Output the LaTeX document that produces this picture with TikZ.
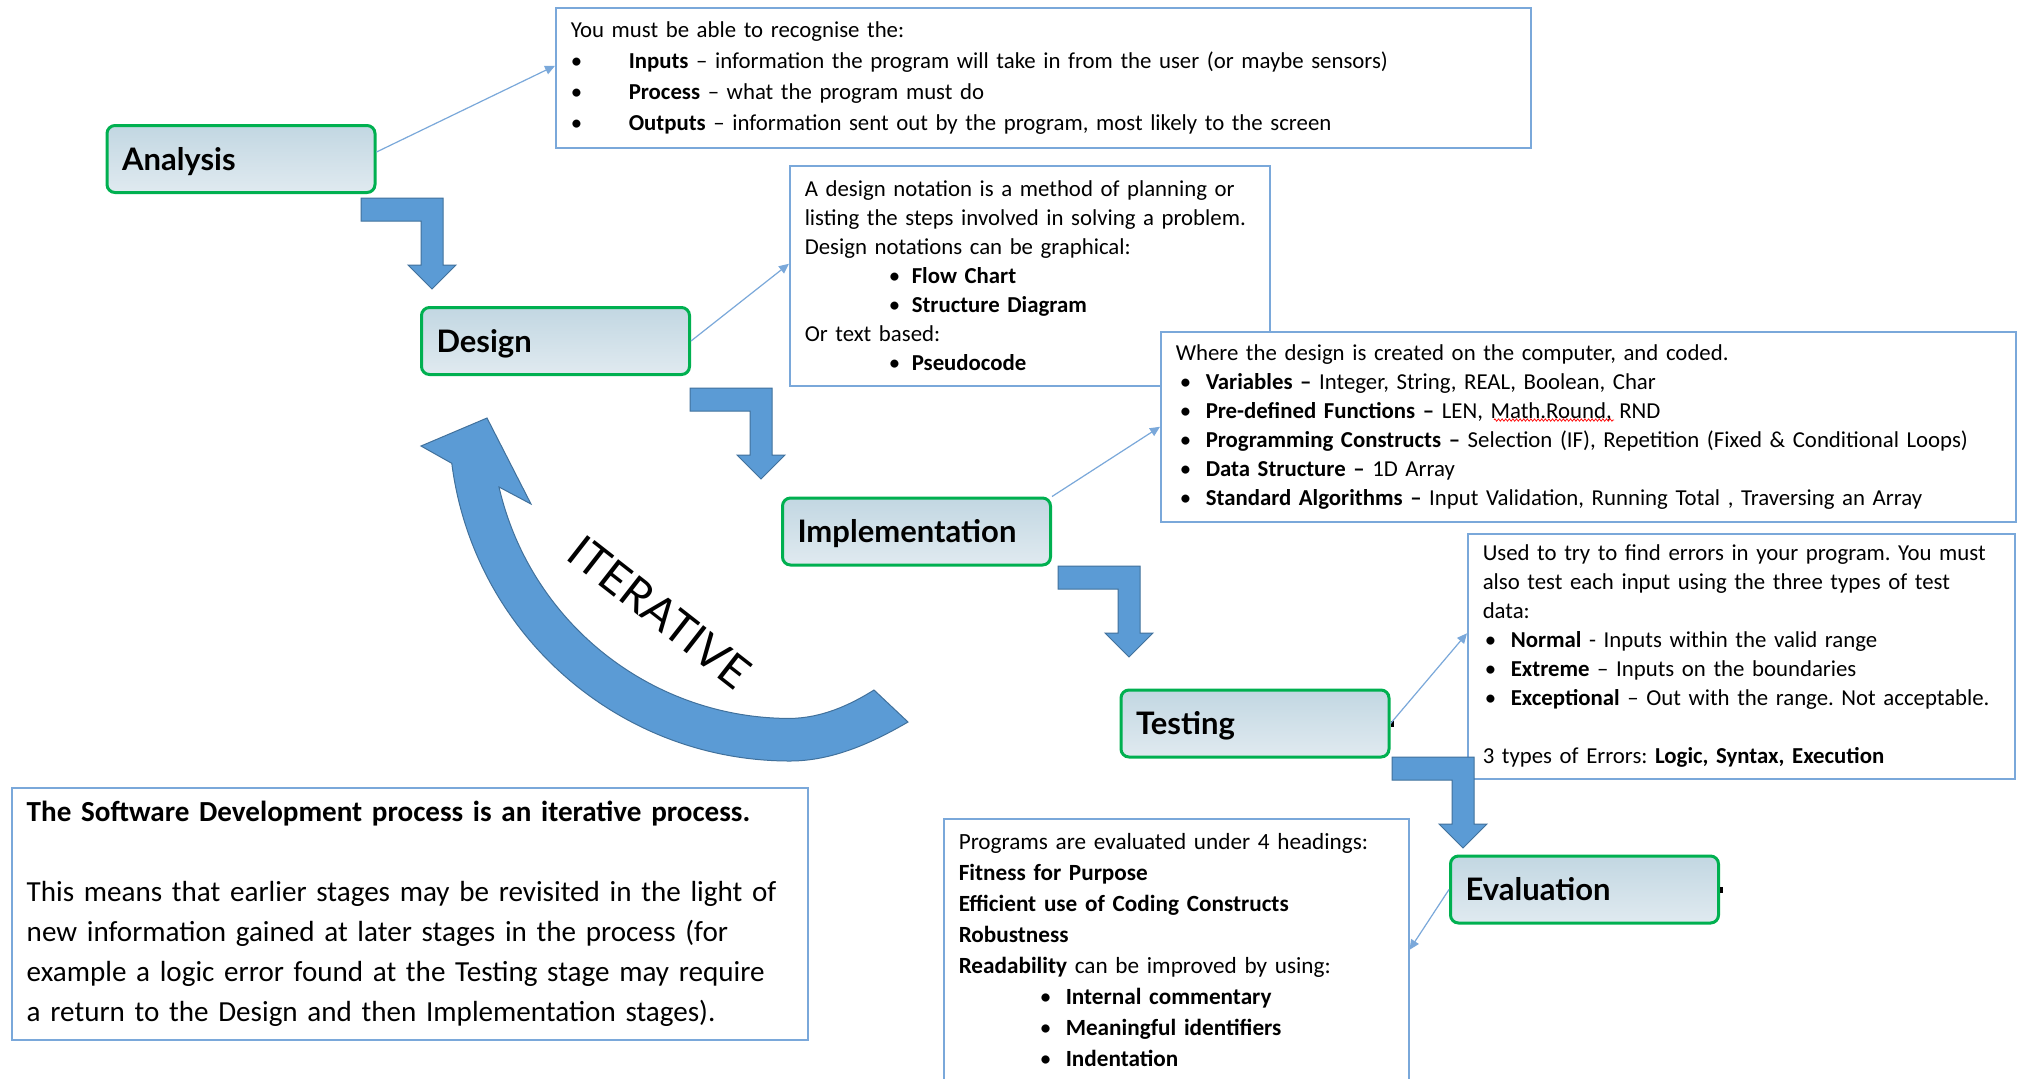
\documentclass[tikz,border=0pt]{standalone}
\usepackage{fontspec}
\setmainfont{Carlito}
\newfontfamily\stagefont{Lato}
\usetikzlibrary{arrows.meta,positioning,decorations.pathmorphing}
\definecolor{StageGreen}{RGB}{0,176,80}
\definecolor{StageTop}{RGB}{194,215,226}
\definecolor{StageBottom}{RGB}{224,234,240}
\definecolor{BlockBlue}{RGB}{91,155,213}
\definecolor{BlockEdge}{RGB}{65,113,156}
\definecolor{NoteBlue}{RGB}{122,168,218}
\frenchspacing
% bullet with its own indent and gap
\newcommand{\bulitem}[2]{\hspace*{#1}\makebox[#2][l]{\textbullet}}
\tikzset{
  stagebox/.style={draw=StageGreen,line width=1.5pt,rounded corners=4pt,
    top color=StageTop,bottom color=StageBottom,
    minimum width=134pt,minimum height=33.5pt,text width=119pt,inner xsep=7.5pt,
    text height=11.2pt,text depth=0pt,
    align=left,font=\stagefont\bfseries\fontsize{15.5}{18}\selectfont},
  notebox/.style={draw=NoteBlue,line width=0.75pt,fill=white,anchor=north west,
    inner xsep=7.5pt,align=left,font=\fontsize{11.4}{14.5}\selectfont},
  noteline/.style={-{Triangle[length=5pt,width=4.5pt]},line width=0.6pt,draw=NoteBlue},
  blockarrow/.style={fill=BlockBlue,draw=BlockEdge,line width=0.5pt,line join=miter},
  spellwave/.style={red,line width=0.35pt,decorate,
    decoration={zigzag,amplitude=0.6pt,segment length=1.8pt}},
  pics/bentarrow/.style={code={
    \draw[blockarrow] (0,0) -- (82,0) -- (82,67) -- (95,67) -- (71,91)
      -- (47,67) -- (60,67) -- (60,23) -- (0,23) -- cycle;}},
}
\begin{document}
\begin{tikzpicture}[x=0.5pt,y=-0.5pt]
  \useasboundingbox (0,0) rectangle (2018,1078);
  \fill[white] (0,0) rectangle (2018,1078);
  \clip (0,0) rectangle (2018,1078);

  % notes beside each stage
  \node[notebox,text width=472.5pt,minimum height=70pt,font=\fontsize{11.4}{15.5}\selectfont] (analysisnote) at (555,7) {%
    You must be able to recognise the:\\
    \bulitem{0pt}{29pt}\textbf{Inputs} -- information the program will take in from the user (or maybe sensors)\\
    \bulitem{0pt}{29pt}\textbf{Process} -- what the program must do\\
    \bulitem{0pt}{29pt}\textbf{Outputs} -- information sent out by the program, most likely to the screen};
  \node[notebox,text width=225pt,minimum height=110pt] (designnote) at (789,165) {%
    A design notation is a method of planning or\\
    listing the steps involved in solving a problem.\\
    Design notations can be graphical:\\
    \bulitem{42pt}{11.5pt}\textbf{Flow Chart}\\
    \bulitem{42pt}{11.5pt}\textbf{Structure Diagram}\\
    Or text based:\\
    \bulitem{42pt}{11.5pt}\textbf{Pseudocode}};
  \node[notebox,text width=412.5pt,minimum height=95pt] (implnote) at (1160,331) {%
    Where the design is created on the computer, and coded.\\
    \bulitem{2pt}{13pt}\textbf{Variables --} Integer, String, REAL, Boolean, Char\\
    \bulitem{2pt}{13pt}\textbf{Pre-defined Functions --} LEN, Math.Round, RND\\
    \bulitem{2pt}{13pt}\textbf{Programming Constructs --} Selection (IF), Repetition (Fixed \& Conditional Loops)\\
    \bulitem{2pt}{13pt}\textbf{Data Structure --} 1D Array\\
    \bulitem{2pt}{13pt}\textbf{Standard Algorithms --} Input Validation, Running Total , Traversing an Array};
  \draw[spellwave] ([shift={(334,89)}]implnote.north west) -- ++(120,0);
  \node[notebox,text width=258.5pt,minimum height=122.5pt] (testnote) at (1467,533) {%
    Used to try to find errors in your program. You must\\
    also test each input using the three types of test\\
    data:\\
    \bulitem{1pt}{13pt}\textbf{Normal} - Inputs within the valid range\\
    \bulitem{1pt}{13pt}\textbf{Extreme} -- Inputs on the boundaries\\
    \bulitem{1pt}{13pt}\textbf{Exceptional} -- Out with the range. Not acceptable.\\[14.5pt]
    3 types of Errors: \textbf{Logic, Syntax, Execution}};
  \node[notebox,text width=217.5pt,inner ysep=7.2pt,font=\fontsize{11.6}{15.5}\selectfont] (evalnote) at (943,818) {%
    Programs are evaluated under 4 headings:\\
    \textbf{Fitness for Purpose}\\
    \textbf{Efficient use of Coding Constructs}\\
    \textbf{Robustness}\\
    \textbf{Readability} can be improved by using:\\
    \bulitem{40.5pt}{13pt}\textbf{Internal commentary}\\
    \bulitem{40.5pt}{13pt}\textbf{Meaningful identifiers}\\
    \bulitem{40.5pt}{13pt}\textbf{Indentation}};
  \node[notebox,text width=383pt,minimum height=126pt,font=\fontsize{14.55}{20}\selectfont] (summary) at (11,787) {%
    \textbf{The Software Development process is an iterative process.}\\[20pt]
    This means that earlier stages may be revisited in the light of\\
    new information gained at later stages in the process (for\\
    example a logic error found at the Testing stage may require\\
    a return to the Design and then Implementation stages).};

  % the five stages
  \node[stagebox] (analysis) at (241,159) {Analysis};
  \node[stagebox] (design) at (555.5,341) {Design};
  \node[stagebox] (implementation) at (916.5,531.5) {Implementation};
  \node[stagebox] (testing) at (1255,723.5) {Testing};
  \node[stagebox] (evaluation) at (1584.5,889.5) {Evaluation};
  \fill ([yshift=1.5pt]testing.east) rectangle ++(3,6);
  \fill ([yshift=1.5pt]evaluation.east) rectangle ++(3,6);

  % block arrows stepping down
  \pic at (361,198) {bentarrow};
  \pic at (690,388) {bentarrow};
  \pic at (1058,566) {bentarrow};
  \pic at (1392,757) {bentarrow};

  % thin links to the notes
  \draw[noteline] ([yshift=3.5pt]analysis.east) -- ([yshift=6pt]analysisnote.west);
  \draw[noteline] (design.east) -- ([yshift=6pt]designnote.west);
  \draw[noteline] (implementation.north east) -- (implnote.west);
  \draw[noteline] (testing.east) -- ([yshift=11.5pt]testnote.west);
  \draw[noteline] (evaluation.west) -- (evalnote.east);

  % curved arrow back to the start
  \draw[blockarrow] (908,722) .. controls (872,743) and (832,761) .. (790,761)
    arc[start angle=90,end angle=172.7,radius=341]
    -- (421,446) -- (487,418) -- (531,504) -- (499,487)
    arc[start angle=167,end angle=90,radius=298.6]
    .. controls (822,718) and (850,705) .. (874,690) -- cycle;
  \node[font=\stagefont\fontsize{22.5}{27}\selectfont,rotate=-38] (iterlabel) at (660,612) {ITERATIVE};
\end{tikzpicture}
\end{document}
